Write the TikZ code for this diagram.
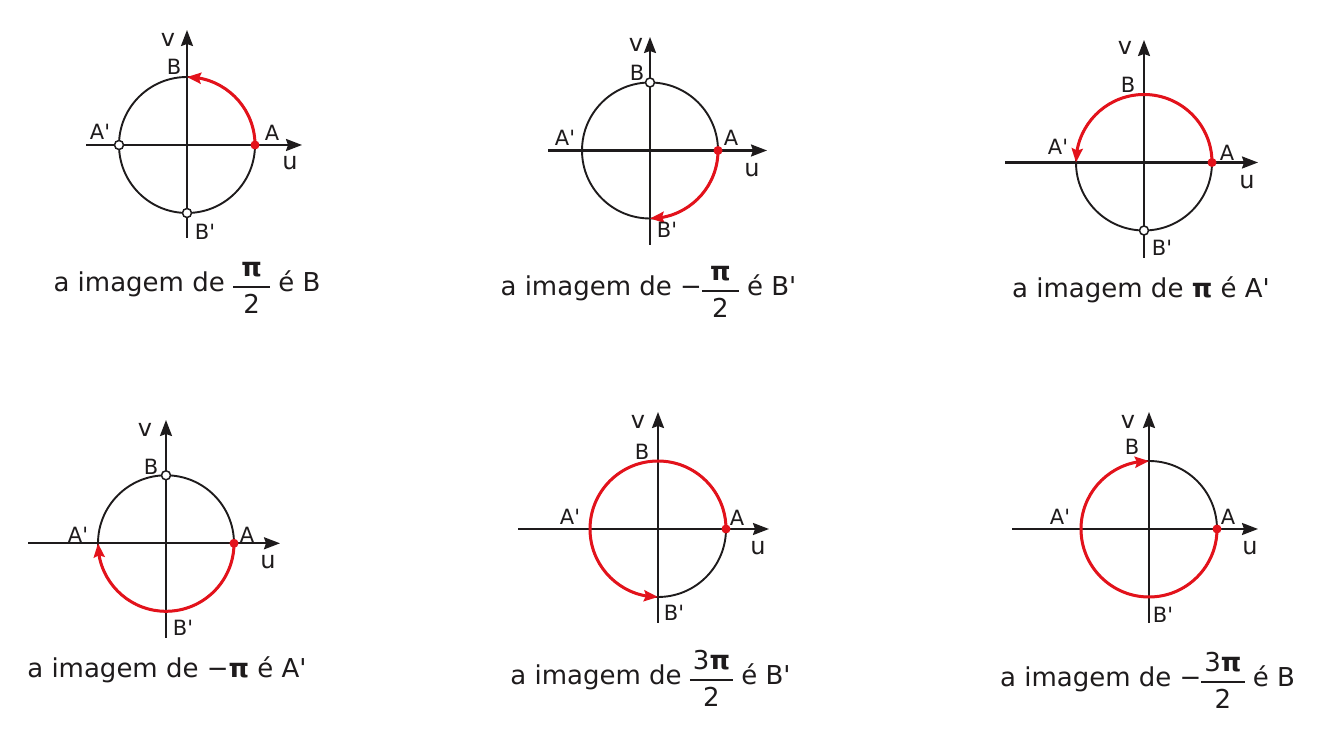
\documentclass[tikz,border=0pt]{standalone}
\usepackage{fontspec}
\setmainfont{DejaVu Sans}
\usetikzlibrary{arrows.meta,bending}
\definecolor{ink}{HTML}{1E1B1C}
\definecolor{arcred}{HTML}{E3121B}
\newcommand{\pib}{\textbf{π}}
\newcommand{\qt}{\textquotesingle}
\newcommand{\fr}[2]{\raisebox{-22pt}{\setlength{\arrayrulewidth}{2pt}\begin{tabular}[b]{@{\hspace{3pt}}c@{\hspace{3pt}}}#1\\\hline\rule{0pt}{26pt}#2\end{tabular}}}
\tikzset{
 axisline/.style={draw=ink, line width=2.1pt, -{Stealth[length=16pt,width=12pt,inset=2pt]}},
 circline/.style={draw=ink, line width=1.9pt},
 redarc/.style={draw=arcred, line width=3pt, -{Stealth[length=14pt,width=11pt,inset=2pt,flex]}},
 reddot/.style={circle, fill=arcred, inner sep=0pt, minimum size=9pt},
 opendot/.style={circle, draw=ink, fill=white, line width=1.5pt, inner sep=0pt, minimum size=9pt},
 ptlab/.style={font=\fontsize{21}{25}\selectfont, text=ink, inner sep=0pt},
 axlab/.style={font=\fontsize{24}{28}\selectfont, text=ink, inner sep=0pt},
 captxt/.style={font=\fontsize{26}{31}\selectfont, text=ink, inner sep=0pt, anchor=base},
}
\begin{document}
\begin{tikzpicture}[x=1pt,y=1pt]
\useasboundingbox (0,0) rectangle (1323,750);
\fill[white] (0,0) rectangle (1323,750);

% ---------- Panel 1 ----------
\begin{scope}[shift={(187,605)}]
\coordinate (O1) at (0,0);
\coordinate (L1) at (-101,0); \coordinate (R1) at (115,0);
\coordinate (D1) at (0,-93); \coordinate (U1) at (0,115);
\coordinate (A1) at (68,0); \coordinate (B1) at (0,68);
\coordinate (Ap1) at (-68,0); \coordinate (Bp1) at (0,-68);
\draw[circline] (O1) circle[radius=68];
\draw[axisline] (L1) -- (R1);
\draw[axisline] (D1) -- (U1);
\draw[redarc] (A1) arc[start angle=0, end angle=90, radius=68];
\node[reddot] (dA1) at (A1) {};
\node[opendot] (dAp1) at (Ap1) {};
\node[opendot] (dBp1) at (Bp1) {};
\node[axlab] (v1) at (-19,105) {v};
\node[axlab] (u1) at (103,-18) {u};
\node[ptlab] (lB1) at (-13,78) {B};
\node[ptlab] (lA1) at (85,12) {A};
\node[ptlab] (lAp1) at (-87,13) {A\qt};
\node[ptlab] (lBp1) at (18,-87) {B\qt};
\end{scope}

% ---------- Panel 2 ----------
\begin{scope}[shift={(650,599.5)}]
\coordinate (O2) at (0,0);
\coordinate (L2) at (-102,0); \coordinate (R2) at (117,0);
\coordinate (D2) at (0,-94.5); \coordinate (U2) at (0,113.5);
\coordinate (A2) at (68,0); \coordinate (B2) at (0,68);
\draw[circline] (O2) circle[radius=68];
\draw[axisline] (L2) -- (R2);
\draw[axisline] (D2) -- (U2);
\draw[redarc] (A2) arc[start angle=0, end angle=-90, radius=68];
\node[reddot] (dA2) at (A2) {};
\node[opendot] (dB2) at (B2) {};
\node[axlab] (v2) at (-14,105.5) {v};
\node[axlab] (u2) at (102,-19.5) {u};
\node[ptlab] (lB2) at (-13,77.5) {B};
\node[ptlab] (lA2) at (81,12.5) {A};
\node[ptlab] (lAp2) at (-85,12.5) {A\qt};
\node[ptlab] (lBp2) at (17,-79.5) {B\qt};
\end{scope}

% ---------- Panel 3 ----------
\begin{scope}[shift={(1144,587.5)}]
\coordinate (O3) at (0,0);
\coordinate (L3) at (-139,0); \coordinate (R3) at (114,0);
\coordinate (D3) at (0,-95.5); \coordinate (U3) at (0,122.5);
\coordinate (A3) at (68,0); \coordinate (Bp3) at (0,-68);
\draw[circline] (O3) circle[radius=68];
\draw[axisline] (L3) -- (R3);
\draw[axisline] (D3) -- (U3);
\draw[redarc] (A3) arc[start angle=0, end angle=180, radius=68];
\node[reddot] (dA3) at (A3) {};
\node[opendot] (dBp3) at (Bp3) {};
\node[axlab] (v3) at (-19,114.5) {v};
\node[axlab] (u3) at (103,-19.5) {u};
\node[ptlab] (lB3) at (-16,77.5) {B};
\node[ptlab] (lA3) at (83,9.5) {A};
\node[ptlab] (lAp3) at (-86,15.5) {A\qt};
\node[ptlab] (lBp3) at (18,-85.5) {B\qt};
\end{scope}

% ---------- Panel 4 ----------
\begin{scope}[shift={(166,206.7)}]
\coordinate (O4) at (0,0);
\coordinate (L4) at (-138,0); \coordinate (R4) at (114,0);
\coordinate (D4) at (0,-94.7); \coordinate (U4) at (0,123.3);
\coordinate (A4) at (68,0); \coordinate (B4) at (0,68);
\draw[circline] (O4) circle[radius=68];
\draw[axisline] (L4) -- (R4);
\draw[axisline] (D4) -- (U4);
\draw[redarc] (A4) arc[start angle=0, end angle=-180, radius=68];
\node[reddot] (dA4) at (A4) {};
\node[opendot] (dB4) at (B4) {};
\node[axlab] (v4) at (-21,113) {v};
\node[axlab] (u4) at (102,-19) {u};
\node[ptlab] (lB4) at (-15,76) {B};
\node[ptlab] (lA4) at (81,8) {A};
\node[ptlab] (lAp4) at (-88,8) {A\qt};
\node[ptlab] (lBp4) at (17,-85) {B\qt};
\end{scope}

% ---------- Panel 5 ----------
\begin{scope}[shift={(658,221)}]
\coordinate (O5) at (0,0);
\coordinate (L5) at (-140,0); \coordinate (R5) at (111,0);
\coordinate (D5) at (0,-94); \coordinate (U5) at (0,117);
\coordinate (A5) at (68,0);
\draw[circline] (O5) circle[radius=68];
\draw[axisline] (L5) -- (R5);
\draw[axisline] (D5) -- (U5);
\draw[redarc] (A5) arc[start angle=0, end angle=270, radius=68];
\node[reddot] (dA5) at (A5) {};
\node[axlab] (v5) at (-20,107) {v};
\node[axlab] (u5) at (100,-19) {u};
\node[ptlab] (lB5) at (-16,77) {B};
\node[ptlab] (lA5) at (79,11) {A};
\node[ptlab] (lAp5) at (-88,12) {A\qt};
\node[ptlab] (lBp5) at (16,-84) {B\qt};
\end{scope}

% ---------- Panel 6 ----------
\begin{scope}[shift={(1149,221)}]
\coordinate (O6) at (0,0);
\coordinate (L6) at (-137,0); \coordinate (R6) at (109,0);
\coordinate (D6) at (0,-94); \coordinate (U6) at (0,117);
\coordinate (A6) at (68,0);
\draw[circline] (O6) circle[radius=68];
\draw[axisline] (L6) -- (R6);
\draw[axisline] (D6) -- (U6);
\draw[redarc] (A6) arc[start angle=0, end angle=-270, radius=68];
\node[reddot] (dA6) at (A6) {};
\node[axlab] (v6) at (-21,107) {v};
\node[axlab] (u6) at (101,-19) {u};
\node[ptlab] (lB6) at (-17,82) {B};
\node[ptlab] (lA6) at (79,12) {A};
\node[ptlab] (lAp6) at (-89,12) {A\qt};
\node[ptlab] (lBp6) at (14,-86) {B\qt};
\end{scope}

% ---------- Captions ----------
\node[captxt] (c1) at (187,458.3) {a imagem de \fr{\makebox[31pt]{\pib}}{2} é B};
\node[captxt] (c2) at (648.5,454) {a imagem de −\fr{\makebox[31pt]{\pib}}{2} é B\qt};
\node[captxt] (c3) at (1141,452) {a imagem de \pib\ é A\qt};
\node[captxt] (c4) at (167,72.3) {a imagem de −\pib\ é A\qt};
\node[captxt] (c5) at (650.5,65) {a imagem de \fr{3\pib}{2} é B\qt};
\node[captxt] (c6) at (1147.5,63.3) {a imagem de −\fr{3\pib}{2} é B};
\end{tikzpicture}
\end{document}
